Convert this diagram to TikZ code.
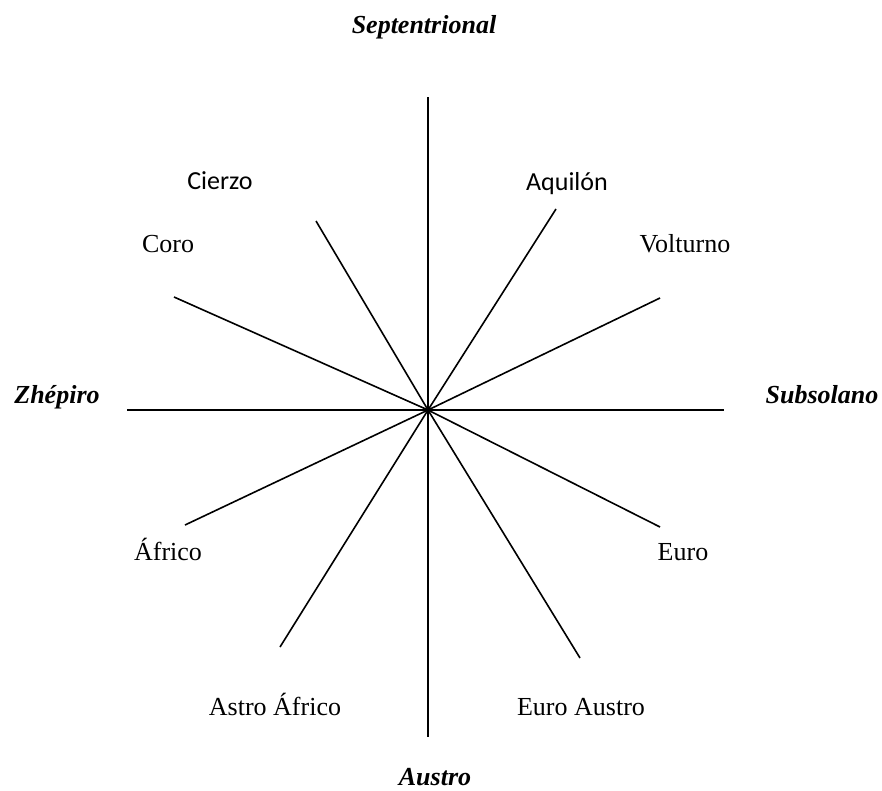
\documentclass[tikz,border=0pt]{standalone}
\usepackage{fontspec}
\setmainfont{Liberation Serif}
\newfontfamily\calib{Carlito}
\begin{document}
\begin{tikzpicture}[x=1pt,y=-1pt,
  ray/.style={line width=1.6pt, black},
  lbl/.style={anchor=base, inner sep=0pt, font=\fontsize{26}{30}\selectfont},
  card/.style={lbl, font=\fontsize{26}{30}\selectfont\bfseries\itshape},
  sanslbl/.style={lbl, font=\fontsize{26}{30}\selectfont\calib}]
\useasboundingbox (0,0) rectangle (882,790);
\coordinate (c) at (428,410);
\coordinate (n) at (428,97);
\coordinate (s) at (428,737);
\coordinate (w) at (127,410);
\coordinate (e) at (724,410);
\coordinate (aq) at (556,209);
\coordinate (ci) at (316,221);
\coordinate (vo) at (660,298);
\coordinate (co) at (174,297);
\coordinate (eu) at (660,527);
\coordinate (af) at (185,525);
\coordinate (ea) at (580,658);
\coordinate (aa) at (280,647);
\draw[ray] (n) -- (s);
\draw[ray] (w) -- (e);
\foreach \p in {aq,ci,vo,co,eu,af,ea,aa} \draw[ray] (c) -- (\p);
\node[card] (tS) at (424,33) {Septentrional};
\node[card] (tA) at (435,785) {Austro};
\node[card] (tZ) at (57,403) {Zhépiro};
\node[card] (tSu) at (822,403) {Subsolano};
\node[sanslbl] (tCi) at (220,189) {Cierzo};
\node[sanslbl] (tAq) at (567,190) {Aquilón};
\node[lbl] (tVo) at (685,252) {Volturno};
\node[lbl] (tCo) at (168,252) {Coro};
\node[lbl] (tEu) at (683,560) {Euro};
\node[lbl] (tAf) at (168,560) {Áfrico};
\node[lbl] (tEA) at (581,715) {Euro Austro};
\node[lbl] (tAA) at (275,715) {Astro Áfrico};
\end{tikzpicture}
\end{document}
